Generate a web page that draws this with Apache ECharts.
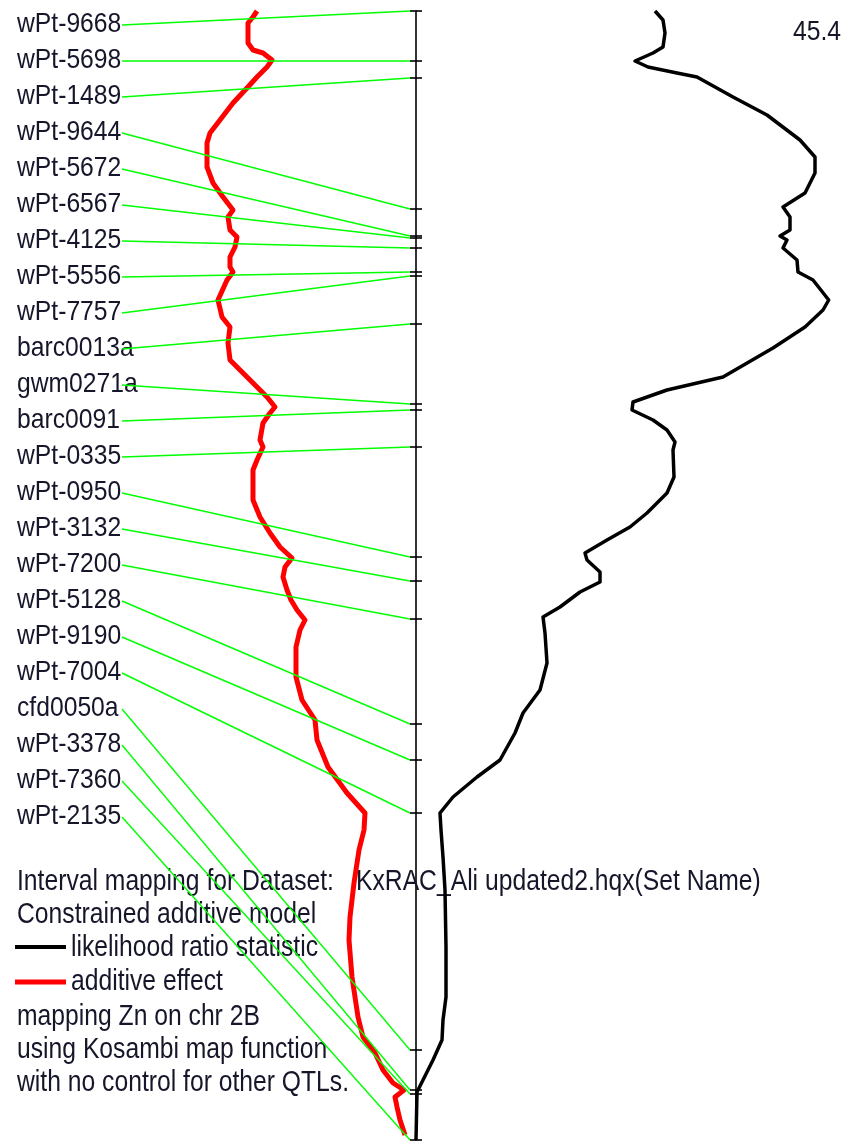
<!DOCTYPE html>
<html>
<head>
<meta charset="utf-8">
<script src="https://cdn.jsdelivr.net/npm/echarts@6/dist/echarts.min.js"></script>
<style>
  html, body { margin: 0; padding: 0; background: #fff; }
  #chart { width: 842px; height: 1142px; }
</style>
</head>
<body>
<div id="chart"></div>
<script>
// Chromosome 2B map: marker names and their positions (cM)
const markerNames = ['wPt-9668','wPt-5698','wPt-1489','wPt-9644','wPt-5672','wPt-6567','wPt-4125','wPt-5556','wPt-7757','barc0013a','gwm0271a','barc0091','wPt-0335','wPt-0950','wPt-3132','wPt-7200','wPt-5128','wPt-9190','wPt-7004','cfd0050a','wPt-3378','wPt-7360','wPt-2135'];
const markerPos = [0, 10.0, 13.4, 39.6, 45.0, 45.4, 47.4, 52.2, 53.0, 62.6, 78.6, 79.8, 87.2, 109.2, 114.0, 121.6, 142.6, 149.8, 160.4, 207.8, 215.8, 216.6, 225.8];

// Additive effect along the chromosome
const addPos = [0,1.2,2.4,6.4,7.8,8.4,9.8,11.2,13.2,15.4,18.4,21.8,24.4,26.4,31.2,34.4,37.2,39.8,41.2,43.8,45.2,47.2,49.2,51.2,52.2,53.8,57.8,61.2,63.2,66.4,69.8,72.4,75.2,77.2,79.2,80.4,82.4,85.8,87.2,89.8,91.8,97.8,101.2,104.4,107.2,109.4,111.2,113.2,115.8,117.8,119.8,121.8,123.8,127.2,133.2,137.8,141.8,145.8,151.2,156.4,160.4,163.8,167.8,174.4,181.2,185.8,193.2,201.2,205.2,208.4,211.8,214.4,215.8,217.2,219.2,221.8,224.8];
const addEffect = [-1.59,-1.63,-1.68,-1.68,-1.63,-1.53,-1.44,-1.49,-1.59,-1.69,-1.83,-1.96,-2.06,-2.09,-2.09,-2.03,-1.93,-1.83,-1.88,-1.86,-1.79,-1.81,-1.86,-1.86,-1.83,-1.89,-1.98,-1.94,-1.86,-1.88,-1.86,-1.73,-1.59,-1.49,-1.41,-1.46,-1.53,-1.56,-1.53,-1.59,-1.63,-1.63,-1.56,-1.46,-1.36,-1.24,-1.31,-1.33,-1.29,-1.25,-1.19,-1.11,-1.16,-1.20,-1.20,-1.14,-1.01,-0.99,-0.88,-0.69,-0.51,-0.52,-0.57,-0.62,-0.66,-0.67,-0.64,-0.58,-0.53,-0.41,-0.33,-0.23,-0.12,-0.21,-0.19,-0.16,-0.11];

// Likelihood ratio statistic along the chromosome
const lrPos = [0,1.8,4.4,7.2,8.4,10.0,11.2,12.4,13.2,17.2,20.8,25.8,29.2,32.4,36.4,39.2,41.2,43.8,45.0,45.8,47.4,49.8,52.2,53.8,57.8,59.8,63.2,67.4,73.2,75.8,78.2,79.8,81.8,83.8,86.2,87.8,93.2,96.4,100.4,103.2,105.8,108.4,109.8,112.2,114.2,116.2,119.2,121.2,124.4,130.4,135.8,140.4,144.4,149.8,153.2,157.2,160.4,163.8,169.2,175.8,187.2,197.2,201.8,205.8,209.8,213.8,216.2,225.8];
const lrVal = [26.29,27.17,27.39,27.17,26.07,24.09,25.52,28.71,30.91,34.87,38.61,42.24,43.89,43.89,42.79,40.37,41.14,41.14,40.04,40.81,40.37,41.91,42.02,43.67,45.4,44.77,42.79,39.27,33.77,27.61,23.87,23.76,26.07,27.61,28.49,28.27,28.38,27.61,25.41,23.54,21.01,18.59,18.81,20.24,20.24,18.04,15.84,13.97,14.19,14.41,13.64,11.77,10.89,9.24,6.71,4.07,2.64,2.75,2.97,3.19,3.30,3.30,2.97,2.86,1.87,0.77,0.11,0.0];

const lrMax = 45.4;
const chrLength = 225.8;

const legendLines = [
  'Interval mapping for Dataset:',
  'Constrained additive model',
  'likelihood ratio statistic',
  'additive effect',
  'mapping Zn on chr 2B',
  'using Kosambi map function',
  'with no control for other QTLs.'
];
const datasetName = 'KxRAC_Ali updated2.hqx(Set Name)';

const FONT = '"Liberation Sans", Arial, sans-serif';
const FONT_SIZE = 24.7;
const TEXT_COLOR = '#16162a';

const chart = echarts.init(document.getElementById('chart'), null, { renderer: 'canvas' });

const hiddenAxis = {
  axisLine: { show: false }, axisTick: { show: false },
  axisLabel: { show: false }, splitLine: { show: false }
};

// text stretched a little vertically, like the glyphs of the original printout
const textEl = (x, y, s, sy) => ({
  type: 'text', z: 1, x: x, y: y, scaleY: sy || 1.16,
  style: { text: s, font: FONT_SIZE + 'px ' + FONT, fill: TEXT_COLOR, textVerticalAlign: 'middle' }
});

const graphics = [
  textEl(17, 882, legendLines[0]),
  textEl(356, 882, datasetName),
  textEl(17, 915, legendLines[1]),
  textEl(71, 948, legendLines[2]),
  textEl(71, 982, legendLines[3]),
  textEl(17, 1017, legendLines[4]),
  textEl(17, 1050, legendLines[5]),
  textEl(17, 1083, legendLines[6]),
  { type: 'line', z: 1, shape: { x1: 15, y1: 947, x2: 66, y2: 947 }, style: { stroke: '#000', lineWidth: 4 } },
  { type: 'line', z: 1, shape: { x1: 15, y1: 982, x2: 66, y2: 982 }, style: { stroke: '#ff0000', lineWidth: 5 } },
  textEl(793, 33, String(lrMax), 1.1)
];

chart.setOption({
  animation: false,
  backgroundColor: '#fff',
  grid: [
    { left: 0, top: 11, width: 416, height: 1129 },
    { left: 416, top: 11, width: lrMax / 0.11, height: 1129 }
  ],
  xAxis: [
    Object.assign({ type: 'value', gridIndex: 0, min: -4.16, max: 0 }, hiddenAxis),
    Object.assign({ type: 'value', gridIndex: 1, min: 0, max: lrMax }, hiddenAxis)
  ],
  yAxis: [
    Object.assign({ type: 'value', gridIndex: 0, min: 0, max: chrLength, inverse: true }, hiddenAxis),
    {
      type: 'value', gridIndex: 1, min: 0, max: chrLength, inverse: true,
      axisLine: { show: true, onZero: false, lineStyle: { color: '#000', width: 1.6 } },
      axisTick: { show: false }, axisLabel: { show: false }, splitLine: { show: false }
    }
  ],
  graphic: graphics,
  series: [
    {
      type: 'line', name: 'additive effect', xAxisIndex: 0, yAxisIndex: 0, z: 5,
      data: addPos.map((p, i) => [addEffect[i], p]),
      showSymbol: false, smooth: false,
      lineStyle: { color: '#ff0000', width: 5, join: 'round' }
    },
    {
      type: 'line', name: 'likelihood ratio statistic', xAxisIndex: 1, yAxisIndex: 1, z: 5,
      data: lrPos.map((p, i) => [lrVal[i], p]),
      showSymbol: false, smooth: false,
      lineStyle: { color: '#000', width: 3.5, join: 'round' }
    },
    {
      // marker names, connector lines and ticks on the chromosome bar
      type: 'custom', xAxisIndex: 0, yAxisIndex: 0, z: 6, clip: false,
      data: markerPos.map(p => [0, p]),
      renderItem: function (params, api) {
        const i = params.dataIndex;
        const pt = api.coord([0, api.value(1)]);
        const labelY = 25 + 36 * i;
        return {
          type: 'group',
          children: [
            { type: 'text', x: 17, y: labelY, scaleY: 1.1, z2: 0,
              style: { text: markerNames[i], font: FONT_SIZE + 'px ' + FONT, fill: TEXT_COLOR, textVerticalAlign: 'middle' } },
            { type: 'line', z2: 1, shape: { x1: 122, y1: labelY, x2: pt[0] - 6, y2: pt[1] },
              style: { stroke: '#00ff00', lineWidth: 1.4 } },
            { type: 'line', z2: 2, shape: { x1: pt[0] - 6, y1: pt[1], x2: pt[0] + 6, y2: pt[1] },
              style: { stroke: '#000', lineWidth: 1.6 } }
          ]
        };
      }
    }
  ]
});
</script>
</body>
</html>
